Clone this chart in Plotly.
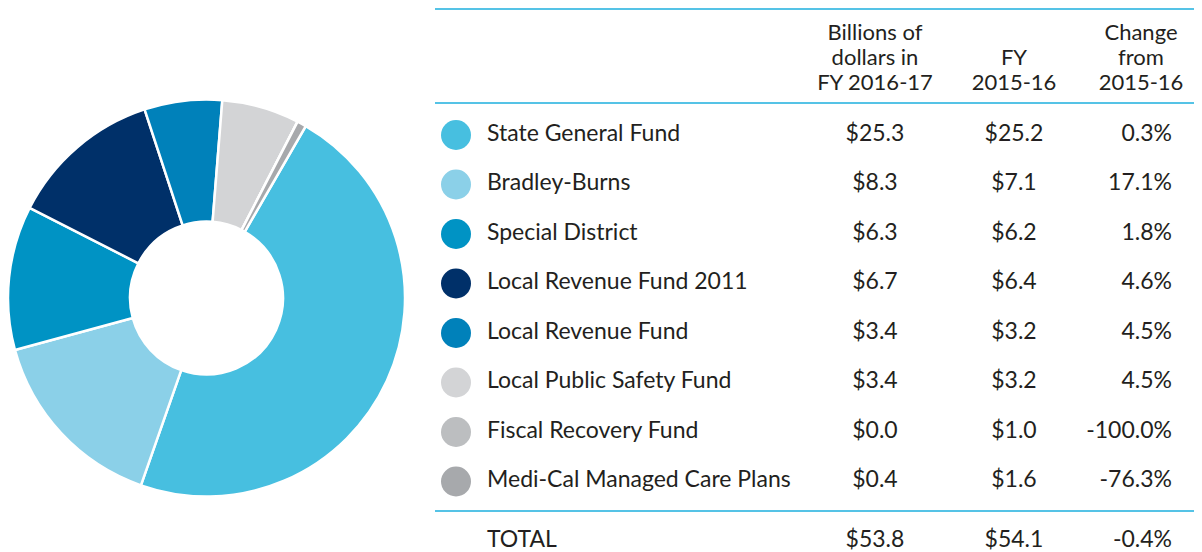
import plotly.graph_objects as go

# ─── Data ─────────────────────────────────────────────────────────────────────

funds = [
    "State General Fund",
    "Bradley-Burns",
    "Special District",
    "Local Revenue Fund 2011",
    "Local Revenue Fund",
    "Local Public Safety Fund",
    "Fiscal Recovery Fund",
    "Medi-Cal Managed Care Plans",
]
fy_2016_17 = [25.3, 8.3, 6.3, 6.7, 3.4, 3.4, 0.0, 0.4]
fy_2015_16 = [25.2, 7.1, 6.2, 6.4, 3.2, 3.2, 1.0, 1.6]
change_pct = [0.3, 17.1, 1.8, 4.6, 4.5, 4.5, -100.0, -76.3]

total_label = "TOTAL"
total_2016_17 = 53.8
total_2015_16 = 54.1
total_change = -0.4

header_cols = [
    ["Billions of", "dollars in", "FY 2016-17"],
    ["FY", "2015-16"],
    ["Change", "from", "2015-16"],
]

colors = ["#47BFE0", "#8BD0E8", "#0093C4", "#003069",
          "#0081BA", "#D3D4D6", "#BCBEC0", "#A7A9AC"]

# ─── Layout constants ─────────────────────────────────────────────────────────

W, H = 1202, 552
OFF = 8                           # page body margin the figure sits inside
FONT = "Lato, 'Open Sans', sans-serif"
INK = "#231F20"
RULE = "#55C3E6"
ROW0, ROW_H = 135, 49.5           # page y of first row, row pitch


def row(py):
    """Page pixel y -> row units on the table's y axis."""
    return (py - ROW0) / ROW_H


def fx(px):
    return max(0.0, (px - OFF) / (W - OFF))


def fy(py):
    return min(1.0, 1 - (py - OFF) / (H - OFF))


X_DOT, X_LABEL, X_COL1, X_COL2, X_COL3, X_HEAD3 = 456, 487, 875, 1014, 1172, 1141
TOTAL_ROW = row(541)
HEAD_LAST, HEAD_STEP = 84, 25     # page y of last header line, line pitch

fig = go.Figure()

# Donut
fig.add_trace(go.Pie(
    labels=funds, values=fy_2016_17,
    marker=dict(colors=colors, line=dict(color="white", width=2.5)),
    hole=0.385, sort=False, direction="clockwise", rotation=30,
    textinfo="none", hoverinfo="label+value", showlegend=False,
    domain=dict(x=[fx(5), fx(405)], y=[fy(498), fy(98)]),
))

rows = list(range(len(funds)))
all_rows = rows + [TOTAL_ROW]
text_font = dict(family=FONT, size=23, color=INK)
head_font = dict(family=FONT, size=22, color=INK)

# Colored dots
fig.add_trace(go.Scatter(
    x=[X_DOT] * len(funds), y=rows, mode="markers",
    marker=dict(size=30, color=colors, line=dict(width=0)),
    hoverinfo="skip", showlegend=False,
))

columns = [
    (X_LABEL, funds + [total_label], "middle right"),
    (X_COL1, [f"${v:.1f}" for v in fy_2016_17 + [total_2016_17]], "middle center"),
    (X_COL2, [f"${v:.1f}" for v in fy_2015_16 + [total_2015_16]], "middle center"),
    (X_COL3, [f"{v:.1f}%" for v in change_pct + [total_change]], "middle left"),
]
for x, texts, pos in columns:
    fig.add_trace(go.Scatter(
        x=[x] * len(texts), y=all_rows, text=texts, mode="text",
        textposition=pos, textfont=text_font,
        hoverinfo="skip", showlegend=False,
    ))

# Header, lines stacked up from the bottom line
for lines, x in zip(header_cols, [X_COL1, X_COL2, X_HEAD3]):
    n = len(lines)
    ys = [row(HEAD_LAST - HEAD_STEP * (n - 1 - k)) for k in range(n)]
    fig.add_trace(go.Scatter(
        x=[x] * n, y=ys, text=lines, mode="text",
        textposition="middle center", textfont=head_font,
        hoverinfo="skip", showlegend=False,
    ))

# Rules
for py in [9, 103, 511]:
    fig.add_shape(type="line", xref="x", yref="y",
                  x0=435, x1=W, y0=row(py), y1=row(py),
                  line=dict(color=RULE, width=2))

fig.update_xaxes(range=[OFF, W], visible=False, fixedrange=True)
fig.update_yaxes(range=[row(H), row(OFF)], visible=False, fixedrange=True)
fig.update_layout(
    width=W - OFF, height=H - OFF, margin=dict(l=0, r=0, t=0, b=0),
    paper_bgcolor="white", plot_bgcolor="white",
    font=dict(family=FONT, color=INK),
)

fig.write_html("out.html")
